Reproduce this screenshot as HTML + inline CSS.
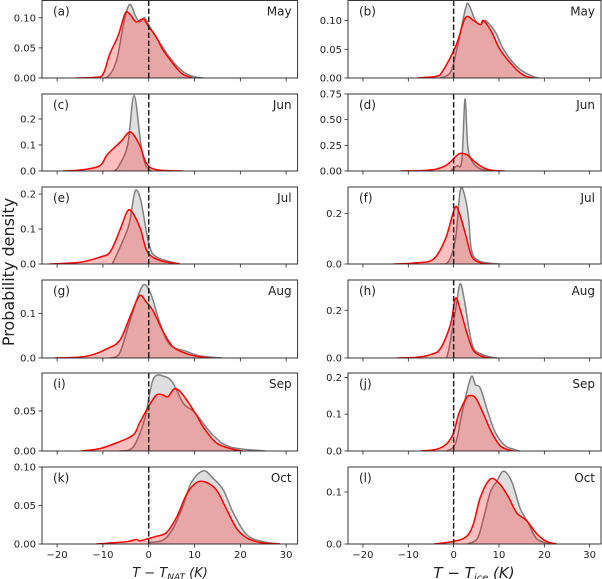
<!DOCTYPE html>
<html><head><meta charset="utf-8">
<style>
html,body{margin:0;padding:0;background:#fff;}
svg{display:block;font-family:"DejaVu Sans","Liberation Sans",sans-serif;}
</style></head>
<body>
<svg id="chart" width="602" height="579" viewBox="0 0 602 579"></svg>
<script>
// ---- data ----
const xTicks = [-20,-10,0,10,20,30];
const panelLabels = ["(a)","(b)","(c)","(d)","(e)","(f)","(g)","(h)","(i)","(j)","(k)","(l)"];
const months = ["May","May","Jun","Jun","Jul","Jul","Aug","Aug","Sep","Sep","Oct","Oct"];
const yMax = [0.1287,0.135,0.296,0.75,0.22,0.306,0.175,0.327,0.0975,0.212,0.10,0.148];
const yTicks = [[0,0.05,0.10],[0,0.05,0.10],[0,0.1,0.2],[0,0.25,0.5,0.75],[0,0.1,0.2],[0,0.2],[0,0.1],[0,0.2],[0,0.05],[0,0.1,0.2],[0,0.05,0.10],[0,0.1]];
const yTickDigits = [2,2,1,2,1,1,1,1,2,1,2,1];

const grayX = [
 [-12,-9,-7,-5.5,-4.2,-3,-2,-0.9,0,1,2,3,4,5,6,8,10,12],
 [-2.9,-0.7,0.7,2.6,3.3,4.8,5.9,7,9.2,11,13.9,16.8,18.7],
 [-7.5,-6.5,-4.6,-3.2,-1.7,-0.6,0.6],
 [-0.7,0.7,1.8,2.5,3.1,4,5.9,8.8],
 [-8.6,-7.8,-4.6,-3.8,-2.9,-1.7,0,1.7,6.8],
 [-2.9,-1.1,0.4,1.5,2.6,3.3,4,5.9,10.2],
 [-8.5,-6.4,-4.5,-2.3,-0.9,0.6,2.4,4.6,8.2,11,16],
 [-2.9,-1.4,0.4,1.4,2.3,3.4,4.4,6.3,8.1,9.6],
 [-6.4,-3.4,-0.9,1,3.5,5.3,7.5,9.7,11.2,14,17.8,25.4],
 [-1.5,0.4,1.8,3.8,4.8,5.9,7.7,9.2,11.3,13.2,14.6],
 [0.2,3.1,5.3,7.5,9.3,11.9,14.1,16.3,18.5,21.4,25,28.7],
 [3,5.2,6.6,8.1,9.5,11,12.8,14.6,15.8,16.5,18.3,21.2]
];
const grayY = [
 [0,0.002,0.03,0.09,0.122,0.105,0.093,0.10,0.088,0.075,0.063,0.052,0.04,0.03,0.021,0.008,0.002,0],
 [0,0.01,0.05,0.12,0.128,0.1,0.093,0.1,0.08,0.05,0.02,0.005,0],
 [0,0.02,0.1,0.29,0.1,0.02,0],
 [0,0.05,0.1,0.7,0.25,0.1,0.02,0],
 [0,0.005,0.1,0.15,0.21,0.18,0.06,0.02,0],
 [0,0.01,0.1,0.295,0.26,0.18,0.05,0.01,0],
 [0,0.01,0.07,0.14,0.165,0.14,0.08,0.03,0.015,0.005,0],
 [0,0.01,0.2,0.31,0.25,0.12,0.04,0.015,0.005,0],
 [0,0.005,0.04,0.09,0.093,0.085,0.06,0.05,0.04,0.02,0.005,0],
 [0,0.02,0.1,0.2,0.18,0.17,0.1,0.05,0.015,0.005,0],
 [0.002,0.005,0.02,0.05,0.08,0.095,0.085,0.07,0.04,0.012,0.003,0],
 [0,0.01,0.05,0.1,0.12,0.14,0.12,0.07,0.05,0.04,0.01,0]
];
const redX = [
 [-16,-12,-10,-8.5,-6.7,-5.5,-4.9,-4,-2.7,-1.2,0,1.5,3,4.5,6,7.5,9.5],
 [-8,-3.7,-2.6,-1.1,0.7,2.6,4.4,5.9,6.6,8.4,10.2,13.2,15.4,17.6],
 [-18.8,-14.4,-10.7,-9.2,-7.8,-6,-4,-2,-0.5,1.7,7.5],
 [-11.7,-6.6,-3.7,-1.5,0,1.3,2.9,4.4,6.2,8,11.3],
 [-21.7,-15,-10.6,-8.4,-6.2,-4.7,-3.6,-1.8,-0.3,2.5,6.8],
 [-13.2,-8,-4.4,-1.8,0.2,1.1,2.6,4,5.9,8],
 [-20.6,-15,-12,-9.3,-6.3,-3.8,-2,-0.5,1,3.1,5.3,8.2,11,13.4],
 [-12.4,-8,-5,-2.9,-0.7,0.4,1.5,3,4.4,6.6,8.1],
 [-14.7,-10.7,-7.1,-3.4,-2,-0.1,1.7,3.1,4.2,5.7,7.5,10.4,11.9,14.8,18.5,20.6],
 [-7.3,-3.7,-1.5,0,1.1,2.6,3.3,4.8,6.6,8.4,10.2,11.7,13.2],
 [-11.5,-4.9,-2.7,-2,-0.1,1.7,3.9,6.1,8.3,10.5,12.6,14.8,17,19.2,21.4,24.3,28.7],
 [-4.4,0,2.9,4.4,5.9,8.1,10.2,12.1,13.9,16.1,18.3,20.5,22.7]
];
const redY = [
 [0,0.001,0.006,0.04,0.07,0.1,0.11,0.105,0.093,0.098,0.085,0.07,0.048,0.032,0.017,0.006,0],
 [0,0.003,0.01,0.03,0.06,0.105,0.1,0.093,0.1,0.08,0.05,0.02,0.005,0],
 [0,0.005,0.02,0.06,0.085,0.115,0.15,0.1,0.03,0.005,0],
 [0,0.005,0.02,0.06,0.12,0.17,0.16,0.1,0.04,0.01,0],
 [0,0.005,0.02,0.035,0.1,0.15,0.148,0.1,0.035,0.01,0],
 [0,0.005,0.02,0.1,0.22,0.21,0.12,0.03,0.005,0],
 [0,0.002,0.008,0.02,0.04,0.1,0.14,0.125,0.105,0.06,0.025,0.01,0.003,0],
 [0,0.003,0.015,0.04,0.14,0.25,0.2,0.1,0.03,0.005,0],
 [0,0.003,0.01,0.02,0.035,0.055,0.07,0.07,0.068,0.078,0.07,0.045,0.03,0.01,0.002,0],
 [0,0.005,0.02,0.05,0.1,0.14,0.15,0.145,0.1,0.05,0.015,0.005,0],
 [0,0.003,0.006,0.004,0.007,0.01,0.015,0.035,0.065,0.08,0.08,0.07,0.045,0.02,0.008,0.002,0],
 [0,0.005,0.015,0.04,0.09,0.125,0.115,0.09,0.06,0.045,0.02,0.005,0]
];

// ---- layout ----
const NS = "http://www.w3.org/2000/svg";
const svg = document.getElementById('chart');
const colL = [42, 348], colR = [297.6, 601];
const rowT = [0.5, 94, 187, 280, 373, 467], rowB = [78, 171, 264, 358, 451, 544];
const xMin = -23.3, xMaxV = 32.5;
function el(tag, attrs, parent){const e=document.createElementNS(NS,tag);for(const k in attrs)e.setAttribute(k,attrs[k]);(parent||svg).appendChild(e);return e;}
function pathFrom(pts){
  let d = "M"+pts[0][0].toFixed(2)+","+pts[0][1].toFixed(2);
  for(let i=0;i<pts.length-1;i++){
    const p0=pts[Math.max(0,i-1)],p1=pts[i],p2=pts[i+1],p3=pts[Math.min(pts.length-1,i+2)];
    const c1=[p1[0]+(p2[0]-p0[0])/6,p1[1]+(p2[1]-p0[1])/6];
    const c2=[p2[0]-(p3[0]-p1[0])/6,p2[1]-(p3[1]-p1[1])/6];
    d+=" C"+c1[0].toFixed(2)+","+c1[1].toFixed(2)+" "+c2[0].toFixed(2)+","+c2[1].toFixed(2)+" "+p2[0].toFixed(2)+","+p2[1].toFixed(2);
  }
  return d;
}
for(let p=0;p<12;p++){
  const c=p%2, r=Math.floor(p/2);
  const L=colL[c], R=colR[c], T=rowT[r], B=rowB[r];
  const xs=v=>L+(v-xMin)/(xMaxV-xMin)*(R-L);
  const ys=v=>B-v/yMax[p]*(B-T);
  const g=el('g',{});
  
  
  const clipId='clip'+p;
  const cp=el('clipPath',{id:clipId},g);
  el('rect',{x:L,y:T,width:R-L,height:B-T},cp);
  const plot=el('g',{'clip-path':'url(#'+clipId+')'},g);
  const series=[[grayX[p],grayY[p],'rgba(128,128,128,0.25)','#808080','gray-kde'],[redX[p],redY[p],'rgba(255,0,0,0.25)','#ff0000','red-kde']];
  for(const s of series){
    const pts=s[0].map((x,i)=>[xs(x),ys(s[1][i])]);
    const d=pathFrom(pts);
    const f=el('path',{d:d+" L"+pts[pts.length-1][0]+","+B+" L"+pts[0][0]+","+B+" Z",fill:s[2],stroke:'none'},plot);
    
    
    const ln=el('path',{d:d,fill:'none',stroke:s[3],'stroke-width':1.5},plot);
    
    
  }
  const z=el('line',{x1:xs(0),x2:xs(0),y1:T,y2:B,stroke:'#222','stroke-width':1.5,'stroke-dasharray':'5.5,2.5'},g);
  
  
  const fr=el('rect',{x:L,y:T,width:R-L,height:B-T,fill:'none',stroke:'#222','stroke-width':0.9},g);
  
  
  for(const t of xTicks){
    el('line',{x1:xs(t),x2:xs(t),y1:B,y2:B+3.5,stroke:'#222','stroke-width':0.8},g);
    if(r===5){
      const tx=el('text',{x:xs(t),y:B+14,'text-anchor':'middle','font-size':10,fill:'#222'},g);
      tx.textContent=(t<0?'\u2212'+(-t):t);
      
      
    }
  }
  for(const t of yTicks[p]){
    const y=ys(t);
    el('line',{x1:L-3.5,x2:L,y1:y,y2:y,stroke:'#222','stroke-width':0.8},g);
    const tx=el('text',{x:L-6,y:y+3.5,'text-anchor':'end','font-size':10,fill:'#222'},g);
    tx.textContent=t.toFixed(yTickDigits[p]);
    
    
  }
  const pl=el('text',{x:L+11,y:T+15,'font-size':12,fill:'#222'},g);
  pl.textContent=panelLabels[p];
  
  
  const ml=el('text',{x:R-6,y:T+15,'text-anchor':'end','font-size':12,fill:'#222'},g);
  ml.textContent=months[p];
  
  
}
</script>
<svg width="0" height="0" style="position:absolute"></svg>
<div style="position:absolute;left:0;top:0;width:602px;height:579px;pointer-events:none;">
<svg width="602" height="579" style="position:absolute;left:0;top:0;font-family:'DejaVu Sans','Liberation Sans',sans-serif;">
<text x="14" y="272" font-size="16" fill="#222" text-anchor="middle" transform="rotate(-90 14 272)">Probability density</text>
<text x="170" y="577" font-size="13" fill="#222" text-anchor="middle" font-style="italic">T − T<tspan font-size="9" dy="3">NAT</tspan><tspan dy="-3"> (K)</tspan></text>
<text x="474" y="578" font-size="15" fill="#222" text-anchor="middle" font-style="italic">T − T<tspan font-size="10" dy="3">ice</tspan><tspan dy="-3"> (K)</tspan></text>
</svg>
</div>
</body></html>
